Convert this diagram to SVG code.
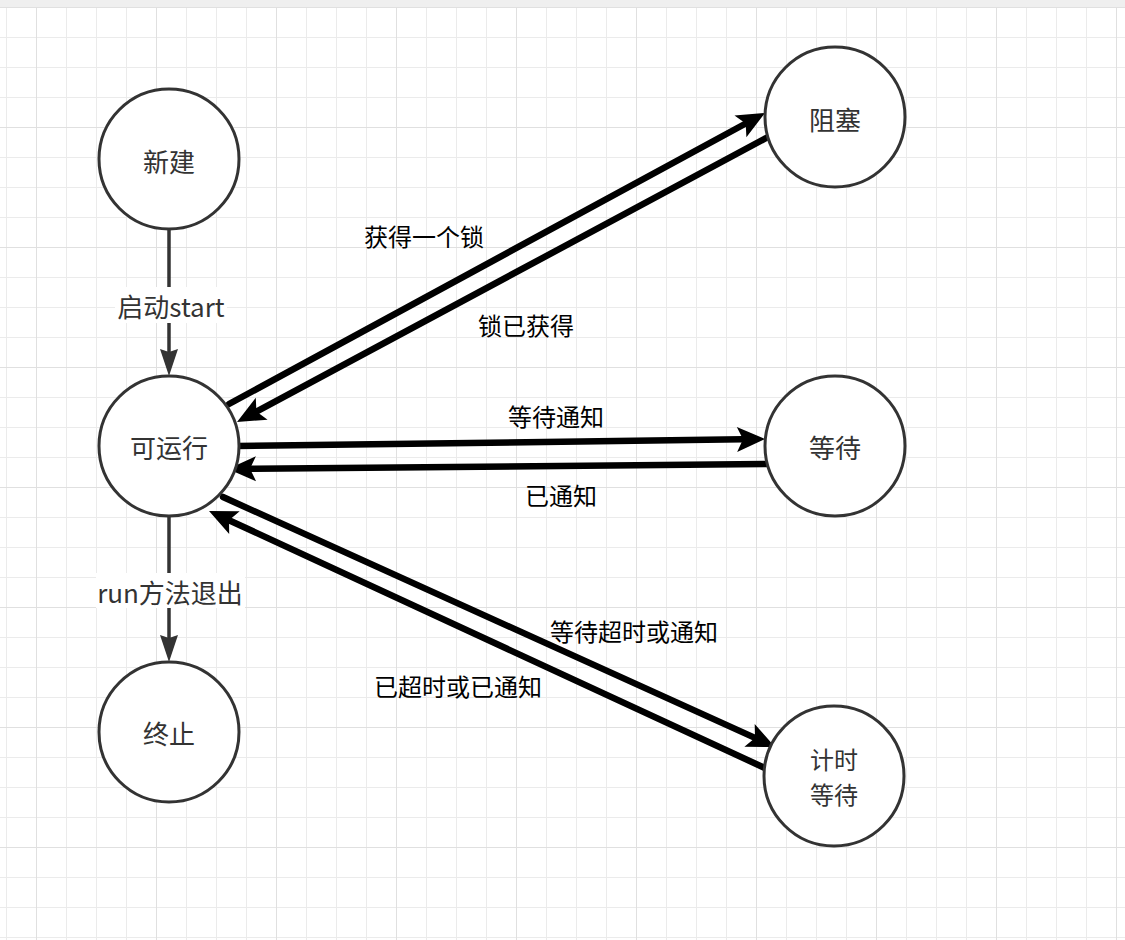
<svg xmlns="http://www.w3.org/2000/svg" width="1125" height="940" viewBox="0 0 1125 940">
<defs>
<style>
.node circle{fill:#fff;stroke:#333;stroke-width:3}
.nt{font-family:"Noto Sans CJK SC","Noto Sans",sans-serif;font-size:26px;fill:#333;text-anchor:middle;dominant-baseline:central}
.el{font-family:"Noto Sans CJK SC","Noto Sans",sans-serif;font-size:24px;fill:#000;text-anchor:middle;dominant-baseline:central}
.gl{font-family:"Noto Sans CJK SC","Noto Sans",sans-serif;font-size:26px;fill:#333;text-anchor:middle;dominant-baseline:central}
.thick{stroke:#000;stroke-width:6.5;fill:none;stroke-linecap:round;marker-end:url(#ah)}
.thin{stroke:#333;stroke-width:3.5;fill:none;marker-end:url(#gh)}
</style>
<pattern id="minor" width="30" height="30" x="6" y="7" patternUnits="userSpaceOnUse">
<path d="M0 0H30M0 0V30" stroke="#ebebeb" stroke-width="2" fill="none"/>
</pattern>
<pattern id="major" width="120" height="120" x="36" y="127" patternUnits="userSpaceOnUse">
<path d="M0 0H120M0 0V120" stroke="#e0e0e0" stroke-width="2" fill="none"/>
</pattern>
<marker id="ah" markerUnits="userSpaceOnUse" markerWidth="30" markerHeight="27" refX="6" refY="12.5" orient="auto" overflow="visible">
<path d="M0 0L28 12.5L0 25L6 12.5Z" fill="#000"/>
</marker>
<marker id="gh" markerUnits="userSpaceOnUse" markerWidth="28" markerHeight="20" refX="3" refY="9" orient="auto" overflow="visible">
<path d="M0 0L27 9L0 18L3 9Z" fill="#333"/>
</marker>
</defs>
<rect width="1125" height="940" fill="#fff"/>
<rect width="1125" height="940" fill="url(#minor)"/>
<rect width="1125" height="940" fill="url(#major)"/>
<rect width="1125" height="7" fill="#efefef"/>

<g id="connectors">
<line class="thin" x1="169" y1="230" x2="169" y2="352"/>
<line class="thin" x1="169" y1="516" x2="169" y2="638"/>
<rect x="115" y="287" width="112" height="36" fill="#fff"/>
<text class="gl" x="171" y="305">启动start</text>
<rect x="96" y="573" width="149" height="35" fill="#fff"/>
<text class="gl" x="170" y="591">run方法退出</text>

<line class="thick" x1="229" y1="404" x2="745.7" y2="123.5"/>
<line class="thick" x1="768" y1="137" x2="256.4" y2="411.6"/>
<line class="thick" x1="237" y1="446" x2="743" y2="439.3"/>
<line class="thick" x1="766" y1="464" x2="250" y2="468.8"/>
<line class="thick" x1="223" y1="497" x2="755" y2="737.9"/>
<line class="thick" x1="767" y1="769" x2="229" y2="520.2"/>

<text class="el" x="424" y="235">获得一个锁</text>
<text class="el" x="526" y="324">锁已获得</text>
<text class="el" x="556" y="415">等待通知</text>
<text class="el" x="561" y="494">已通知</text>
<text class="el" x="634" y="630">等待超时或通知</text>
<text class="el" x="458" y="685">已超时或已通知</text>
</g>

<g id="n-new" class="node"><circle cx="169" cy="159" r="70"/><text class="nt" x="169" y="160">新建</text></g>
<g id="n-runnable" class="node"><circle cx="169" cy="446" r="70"/><text class="nt" x="169" y="446">可运行</text></g>
<g id="n-terminated" class="node"><circle cx="169" cy="732" r="70"/><text class="nt" x="169" y="732">终止</text></g>
<g id="n-blocked" class="node"><circle cx="835" cy="117" r="70"/><text class="nt" x="835" y="118">阻塞</text></g>
<g id="n-waiting" class="node"><circle cx="835" cy="446" r="70"/><text class="nt" x="835" y="446">等待</text></g>
<g id="n-timed" class="node"><circle cx="834" cy="776" r="70"/><text class="nt" style="font-size:24px"><tspan x="834" y="758">计时</tspan><tspan x="834" y="793">等待</tspan></text></g>
</svg>
